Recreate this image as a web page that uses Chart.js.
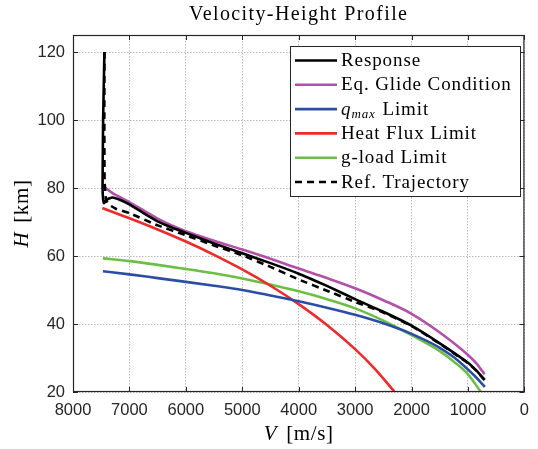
<!DOCTYPE html>
<html lang="en">
<head>
<meta charset="UTF-8">
<title>Velocity-Height Profile</title>
<script src="https://cdn.jsdelivr.net/npm/chart.js"></script>
<style>
  html, body { margin: 0; padding: 0; background: #fff; }
  #chart { display: block; }
</style>
</head>
<body>
<canvas id="chart" width="538" height="449"></canvas>
<script>
// Axis ticks
const velocityTicks = [8000, 7000, 6000, 5000, 4000, 3000, 2000, 1000, 0];
const heightTicks = [20, 40, 60, 80, 100, 120];

const seriesLabels = ['Response', 'Eq. Glide Condition', 'q_max Limit', 'Heat Flux Limit', 'g-load Limit', 'Ref. Trajectory'];

// Response (V in m/s, H in km)
const responseV = [7443, 7455, 7466, 7472, 7476, 7468, 7450, 7400, 7300, 7150, 7000, 6750, 6500, 6250, 6000, 5500, 5000, 4500, 4000, 3500, 3000, 2500, 2000, 1500, 1000, 850, 706];
const responseH = [120, 110, 100, 90, 80.3, 77, 75.5, 76.6, 77.2, 76.4, 75.2, 72.6, 70.2, 68.4, 66.8, 63.7, 60.8, 57.9, 54.8, 51.2, 47.3, 43.6, 39.5, 34.3, 28.6, 26.3, 23.6];

// Equilibrium glide condition
const glideV = [7480, 7400, 7300, 7150, 7000, 6750, 6500, 6250, 6000, 5500, 5000, 4500, 4000, 3500, 3000, 2500, 2000, 1500, 1000, 850, 706];
const glideH = [80.8, 79.7, 78.5, 77.2, 75.8, 73.4, 71.0, 69.0, 67.3, 64.5, 61.9, 59.2, 56.3, 53.5, 50.5, 47.0, 43.0, 37.5, 30.9, 28.4, 25.2];

// Dynamic pressure limit
const qmaxV = [7470, 7000, 6500, 6000, 5500, 5000, 4500, 4000, 3500, 3000, 2500, 2000, 1500, 1250, 1000, 850, 700];
const qmaxH = [55.5, 54.6, 53.5, 52.4, 51.25, 50.0, 48.4, 46.7, 44.8, 42.7, 40.2, 37.1, 33.0, 30.2, 26.6, 24.2, 21.5];

// Heat flux limit
const heatV = [7480, 7000, 6500, 6000, 5500, 5000, 4500, 4000, 3500, 3000, 2650, 2300];
const heatH = [74.1, 71.1, 67.8, 64.25, 60.35, 56.05, 51.25, 45.85, 39.7, 32.6, 26.8, 20.0];

// g-load limit
const gloadV = [7470, 7000, 6500, 6000, 5500, 5000, 4500, 4000, 3500, 3000, 2500, 2000, 1500, 1250, 1000, 770];
const gloadH = [59.3, 58.5, 57.4, 56.2, 54.9, 53.4, 51.6, 49.6, 47.3, 44.6, 41.0, 36.7, 32.0, 28.9, 25.2, 20.0];

// Reference trajectory
const refV = [7443, 7445, 7440, 7413, 7350, 7240, 7000, 6500, 6000, 5500, 5000, 4500, 4000, 3500, 3000, 2500, 2000, 1500, 1000, 850, 706];
const refH = [120, 100, 82, 76.4, 75.0, 73.9, 72.6, 69.0, 66.1, 63.1, 60.2, 56.8, 53.1, 49.8, 46.5, 43.4, 39.4, 34.2, 28.5, 26.2, 23.5];

function toPoints(vs, hs) {
  return vs.map((v, i) => ({ x: v, y: hs[i] }));
}

const serif = '"Liberation Serif", "Times New Roman", serif';
const sans = '"Liberation Sans", Arial, sans-serif';

function makeSet(label, vs, hs, color, extra) {
  return Object.assign({
    label: label,
    data: toPoints(vs, hs),
    showLine: true,
    borderColor: color,
    backgroundColor: color,
    borderWidth: 2.6,
    pointRadius: 0,
    cubicInterpolationMode: 'monotone'
  }, extra || {});
}

const datasets = [
  makeSet(seriesLabels[0], responseV, responseH, '#000000', { cubicInterpolationMode: 'default', tension: 0.15, order: 1 }),
  makeSet(seriesLabels[1], glideV, glideH, '#b350aa', { order: 2 }),
  makeSet(seriesLabels[2], qmaxV, qmaxH, '#2b4ea4', { order: 3 }),
  makeSet(seriesLabels[3], heatV, heatH, '#ee2a2a', { order: 4 }),
  makeSet(seriesLabels[4], gloadV, gloadH, '#6cbf45', { order: 5 }),
  makeSet(seriesLabels[5], refV, refH, '#000000', { cubicInterpolationMode: 'default', tension: 0.15, borderDash: [7, 5], order: 0 })
];

// draws the MATLAB style box, inward ticks, titles and legend
const framePlugin = {
  id: 'frame',
  afterDraw(chart) {
    const { ctx, chartArea: a, scales } = chart;
    const x = scales.x, y = scales.y;
    ctx.save();

    ctx.strokeStyle = '#262626';
    ctx.lineWidth = 1;
    ctx.beginPath();
    x.ticks.forEach(t => {
      const px = Math.round(x.getPixelForValue(t.value)) + 0.5;
      ctx.moveTo(px, a.bottom); ctx.lineTo(px, a.bottom - 5);
      ctx.moveTo(px, a.top); ctx.lineTo(px, a.top + 5);
    });
    y.ticks.forEach(t => {
      const py = Math.round(y.getPixelForValue(t.value)) + 0.5;
      ctx.moveTo(a.left, py); ctx.lineTo(a.left + 5, py);
      ctx.moveTo(a.right, py); ctx.lineTo(a.right - 5, py);
    });
    ctx.stroke();
    ctx.lineWidth = 1.2;
    ctx.strokeRect(a.left + 0.5, a.top + 0.5, a.right - a.left - 1, a.bottom - a.top - 1);

    // title
    ctx.fillStyle = '#000';
    ctx.font = '20px ' + serif;
    ctx.letterSpacing = '1.4px';
    ctx.textAlign = 'center';
    ctx.textBaseline = 'alphabetic';
    ctx.fillText('Velocity-Height Profile', (a.left + a.right) / 2, 19.5);

    // x axis title: V [m/s]
    ctx.letterSpacing = '0.6px';
    ctx.textAlign = 'left';
    const vPart = 'V', vUnit = '[m/s]';
    ctx.font = 'italic 21px ' + serif;
    const w1 = ctx.measureText(vPart).width;
    ctx.font = '21px ' + serif;
    const w2 = ctx.measureText(vUnit).width;
    const gap = 9;
    let sx = (a.left + a.right) / 2 - (w1 + gap + w2) / 2;
    ctx.font = 'italic 21px ' + serif;
    ctx.fillText(vPart, sx, 440);
    ctx.font = '21px ' + serif;
    ctx.fillText(vUnit, sx + w1 + gap, 440);

    // y axis title: H [km]
    ctx.save();
    ctx.translate(28, (a.top + a.bottom) / 2);
    ctx.rotate(-Math.PI / 2);
    ctx.font = 'italic 21px ' + serif;
    const h1 = ctx.measureText('H').width;
    ctx.font = '21px ' + serif;
    const h2 = ctx.measureText('[km]').width;
    sx = -(h1 + gap + h2) / 2;
    ctx.font = 'italic 21px ' + serif;
    ctx.fillText('H', sx, 0);
    ctx.font = '21px ' + serif;
    ctx.fillText('[km]', sx + h1 + gap, 0);
    ctx.restore();

    // legend box
    const lx = 290.5, ly = 46.5, lw = 230, lh = 150;
    ctx.fillStyle = '#fff';
    ctx.fillRect(lx, ly, lw, lh);
    ctx.strokeStyle = '#262626';
    ctx.lineWidth = 1;
    ctx.strokeRect(lx, ly, lw, lh);
    chart.data.datasets.forEach((ds, i) => {
      const rowY = 60.5 + i * 24.3;
      ctx.save();
      ctx.strokeStyle = ds.borderColor;
      ctx.lineWidth = 2.6;
      ctx.setLineDash(ds.borderDash || []);
      ctx.beginPath();
      ctx.moveTo(295, rowY);
      ctx.lineTo(337, rowY);
      ctx.stroke();
      ctx.restore();
      ctx.fillStyle = '#000';
      ctx.letterSpacing = '0.9px';
      const tx = 341, ty = rowY + 5.5;
      if (ds.label.startsWith('q_max')) {
        ctx.font = 'italic 19px ' + serif;
        ctx.fillText('q', tx, ty);
        const qw = ctx.measureText('q').width;
        ctx.font = 'italic 13px ' + serif;
        ctx.fillText('max', tx + qw, ty + 3);
        const mw = ctx.measureText('max').width;
        ctx.font = '19px ' + serif;
        ctx.fillText(' Limit', tx + qw + mw + 1, ty);
      } else {
        ctx.font = '19px ' + serif;
        ctx.fillText(ds.label, tx, ty);
      }
    });
    ctx.restore();
  }
};

const gridStyle = { color: '#b8b8b8', lineWidth: 1, drawTicks: false };

new Chart(document.getElementById('chart'), {
  type: 'scatter',
  data: { datasets: datasets },
  options: {
    responsive: false,
    animation: false,
    layout: { padding: { left: 0, right: 6, top: 35, bottom: 0 } },
    plugins: {
      legend: { display: false },
      tooltip: { enabled: false },
      title: { display: false }
    },
    scales: {
      x: {
        type: 'linear',
        reverse: true,
        min: 0,
        max: 8000,
        afterBuildTicks: s => { s.ticks = velocityTicks.map(v => ({ value: v })); },
        afterFit: s => { s.height = 57; },
        ticks: { color: '#262626', padding: 9, font: { family: sans, size: 16.5 }, maxRotation: 0, autoSkip: false, callback: v => String(v) },
        grid: gridStyle,
        border: { display: false, dash: [1.5, 1.5] }
      },
      y: {
        type: 'linear',
        min: 20,
        max: 125,
        afterBuildTicks: s => { s.ticks = heightTicks.map(v => ({ value: v })); },
        afterFit: s => { s.width = 73; },
        ticks: { color: '#262626', padding: 8, font: { family: sans, size: 16.5 }, callback: v => String(v) },
        grid: gridStyle,
        border: { display: false, dash: [1.5, 1.5] }
      }
    }
  },
  plugins: [framePlugin]
});
</script>
</body>
</html>
